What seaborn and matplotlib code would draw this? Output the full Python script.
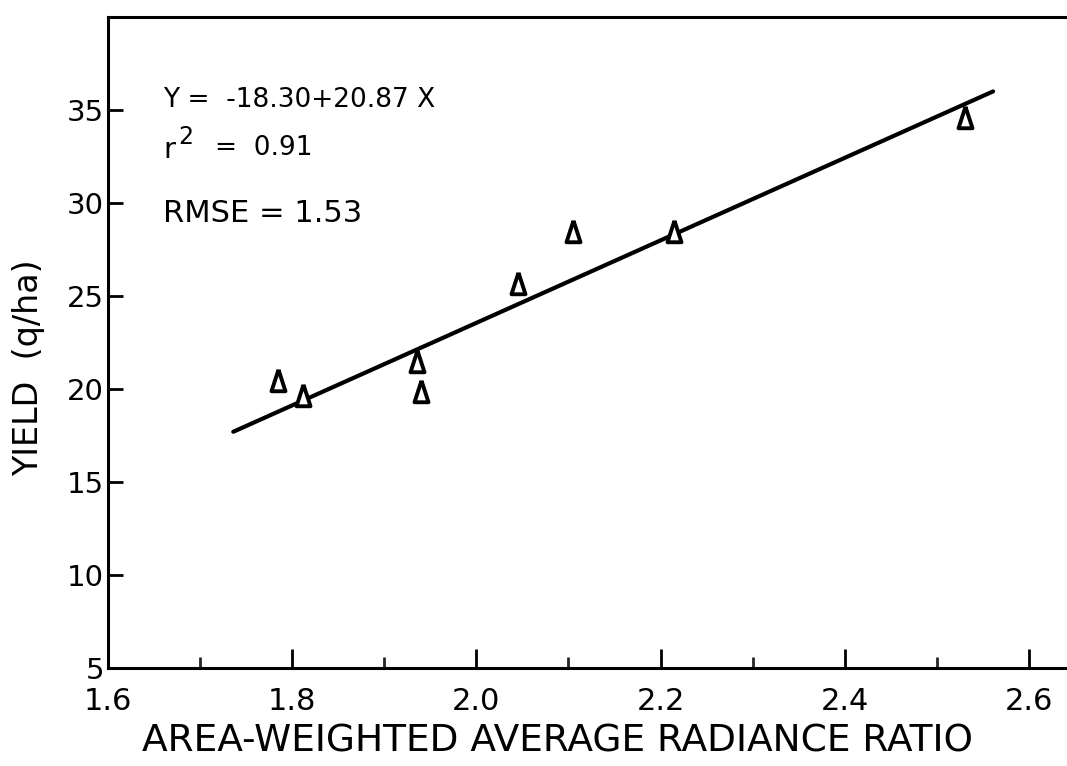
import numpy as np
import pandas as pd
import matplotlib
matplotlib.use("Agg")
import matplotlib.pyplot as plt
import seaborn as sns

# Data
radiance_ratio = [1.785, 1.812, 1.935, 1.940, 2.045, 2.105, 2.215, 2.530]
yield_qha = [20.5, 19.7, 21.5, 19.9, 25.7, 28.5, 28.5, 34.6]
fit_x = [1.736, 2.561]
fit_y = [17.7, 36.0]
x_ticks = [1.6, 1.8, 2.0, 2.2, 2.4, 2.6]
y_ticks = [5, 10, 15, 20, 25, 30, 35]

sns.set_style("white")
plt.rcParams['font.family'] = ['DejaVu Sans']

pts = pd.DataFrame({"x": radiance_ratio, "y": yield_qha})
line = pd.DataFrame({"x": fit_x, "y": fit_y})

W, H = 1067, 766
AX_L, AX_B, AX_T = 108, 668, 17
fig = plt.figure(figsize=(W / 100, H / 100), dpi=100)
ax = fig.add_axes([AX_L / W, 1 - AX_B / H, 1 - AX_L / W, (AX_B - AX_T) / H])

sns.lineplot(data=line, x="x", y="y", ax=ax, color="black", linewidth=3.0)
tri = [(0, 1), (-0.65, -1), (0.65, -1), (0, 1)]
sns.scatterplot(data=pts, x="x", y="y", ax=ax, marker=tri, s=240,
                facecolor="white", edgecolor="black", linewidth=2.8, zorder=3)

ax.set_xlim(1.6, 1.6 + (W - AX_L) / 921)
ax.set_ylim(5, 40)
ax.set_xticks(x_ticks)
ax.set_xticklabels([f"{v:.1f}" for v in x_ticks])
ax.set_xticks(np.arange(1.7, 2.65, 0.2), minor=True)
ax.set_yticks(y_ticks)
ax.set_yticklabels([str(v) for v in y_ticks])

for side in ["left", "bottom", "top"]:
    ax.spines[side].set_visible(True)
    ax.spines[side].set_linewidth(2.2)
    ax.spines[side].set_color("black")
ax.spines["right"].set_visible(False)

ax.tick_params(axis="x", which="major", direction="in", length=14, width=2,
               labelsize=22, pad=14, colors="black", bottom=True, top=False)
ax.tick_params(axis="x", which="minor", direction="in", length=8, width=2,
               bottom=True, top=False)
ax.tick_params(axis="y", which="major", direction="in", length=11, width=2,
               labelsize=21, pad=3, colors="black", left=True, right=False)

aw, ah = W - AX_L, AX_B - AX_T
ax.set_xlabel("AREA-WEIGHTED AVERAGE RADIANCE RATIO", fontsize=27,
              color="black")
ax.xaxis.set_label_coords((557 - AX_L) / aw, (AX_B - 723) / ah)
ax.set_ylabel("YIELD  (q/ha)", fontsize=24, color="black")
ax.yaxis.set_label_coords((45 - AX_L) / aw, (AX_B - 368) / ah)

def ftext(px, py, s, size):
    fig.text(px / W, 1 - py / H, s, fontsize=size, va="center", ha="left",
             color="black")

ftext(163, 100, "Y =  -18.30+20.87 X", 19)
ftext(163, 150, "r", 21)
ftext(178, 137, "2", 17)
ftext(215, 148, "=  0.91", 19)
ftext(163, 213, "RMSE = 1.53", 22)

fig.savefig("out.png", dpi=100, facecolor="white")
